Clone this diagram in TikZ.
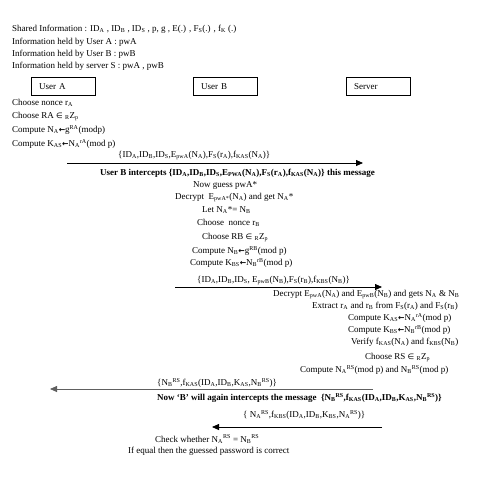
\documentclass[tikz,border=0pt]{standalone}
\usepackage{fontspec}
\setmainfont{Liberation Serif}
\newfontfamily\symfont[Scale=0.85]{DejaVu Sans}
\usetikzlibrary{arrows.meta}
\newcommand{\lo}[1]{\textsubscript{#1}}
\newcommand{\hi}[1]{\textsuperscript{#1}}
\newcommand{\getsarrow}{{\symfont\bfseries ←}}
\newcommand{\isin}{{\symfont ∈}}

\begin{document}
\begin{tikzpicture}[x=1pt, y=-1pt, font=\fontsize{9}{11}\selectfont,
    txt/.style={anchor=west, inner sep=0pt},
    party/.style={draw, anchor=north west, text width=48pt, inner xsep=8pt,
                  minimum height=18pt, inner ysep=0pt, align=left},
    msg/.style={-{Triangle[length=7pt, width=6pt]}, line width=0.8pt}]
  \useasboundingbox (0,0) rectangle (479,477);

  % shared information
  \node[txt] (shared) at (12,29) {Shared Information : ID\lo{A} , ID\lo{B} , ID\lo{S} , p, g , E(.) , F\lo{S}(.) , f\lo{K} (.)};
  \node[txt] (infoA) at (12,42) {Information held by User A : pwA};
  \node[txt] (infoB) at (12,54) {Information held by User B : pwB};
  \node[txt] (infoS) at (12,66) {Information held by server S : pwA , pwB};

  % parties
  \node[party] (userA)  at (31,77)  {User A};
  \node[party] (userB)  at (193,77) {User B};
  \node[party] (server) at (346,77) {Server};

  % user A
  \node[txt] (nonceA)   at (12,103) {Choose nonce r\lo{A}};
  \node[txt] (chooseRA) at (12,117) {Choose RA \isin{} \lo{R}Z\lo{p}};
  \node[txt] (compNA)   at (12,130) {Compute N\lo{A}\getsarrow g\hi{RA}(modp)};
  \node[txt] (compKAS)  at (12,144) {Compute K\lo{AS}\getsarrow N\lo{A}\hi{rA}(mod p)};

  % A -> server, intercepted by B
  \coordinate (m1s) at (67,163);
  \coordinate (m1e) at (363,163);
  \draw[msg] (m1s) -- (m1e);
  \node[txt] (msg1) at (118,155) {\{ID\lo{A},ID\lo{B},ID\lo{S},E\lo{pwA}(N\lo{A}),F\lo{S}(r\lo{A}),f\lo{KAS}(N\lo{A})\}};
  \node[txt, font=\fontsize{9}{11}\selectfont\bfseries] (icpt1) at (100,173)
    {User B intercepts \{ID\lo{A},ID\lo{B},ID\lo{S},E\lo{PWA}(N\lo{A}),F\lo{S}(r\lo{A}),f\lo{KAS}(N\lo{A})\} this message};

  % user B
  \node[txt] (guess)    at (193,185) {Now guess pwA*};
  \node[txt] (decB)     at (175,198) {Decrypt\ \ E\lo{pwA*}(N\lo{A}) and get N\lo{A}*};
  \node[txt] (letNA)    at (202,210) {Let N\lo{A}*= N\lo{B}};
  \node[txt] (nonceB)   at (197,223) {Choose\ \ nonce r\lo{B}};
  \node[txt] (chooseRB) at (202,238) {Choose RB \isin{} \lo{R}Z\lo{p}};
  \node[txt] (compNB)   at (192,251) {Compute N\lo{B}\getsarrow g\hi{RB}(mod p)};
  \node[txt] (compKBS)  at (190,263) {Compute K\lo{BS}\getsarrow N\lo{B}\hi{rB}(mod p)};

  % B -> server
  \coordinate (m2s) at (175,287);
  \coordinate (m2e) at (382,287);
  \draw[msg] (m2s) -- (m2e);
  \node[txt] (msg2) at (197,280) {\{ID\lo{A},ID\lo{B},ID\lo{S}, E\lo{pwB}(N\lo{B}),F\lo{S}(r\lo{B}),f\lo{KBS}(N\lo{B})\}};

  % server
  \node[txt] (decS)     at (273,295) {Decrypt E\lo{pwA}(N\lo{A}) and E\lo{pwB}(N\lo{B}) and gets N\lo{A} \& N\lo{B}};
  \node[txt] (extract)  at (312,306) {Extract r\lo{A} and r\lo{B} from F\lo{S}(r\lo{A}) and F\lo{S}(r\lo{B})};
  \node[txt] (sKAS)     at (348,318) {Compute K\lo{AS}\getsarrow N\lo{A}\hi{rA}(mod p)};
  \node[txt] (sKBS)     at (348,330) {Compute K\lo{BS}\getsarrow N\lo{B}\hi{rB}(mod p)};
  \node[txt] (verify)   at (351,342) {Verify f\lo{KAS}(N\lo{A}) and f\lo{KBS}(N\lo{B})};
  \node[txt] (chooseRS) at (365,358) {Choose RS \isin{} \lo{R}Z\lo{p}};
  \node[txt] (compRS)   at (300,370) {Compute N\lo{A}\hi{RS}(mod p) and N\lo{B}\hi{RS}(mod p)};

  % server -> A, intercepted again
  \coordinate (m3s) at (373,389);
  \coordinate (m3e) at (50,389);
  \draw[msg, gray!75!black] (m3s) -- (m3e);
  \node[txt] (msg3) at (157,383) {\{N\lo{B}\hi{RS},f\lo{KAS}(ID\lo{A},ID\lo{B},K\lo{AS},N\lo{B}\hi{RS})\}};
  \node[txt, font=\fontsize{9}{11}\selectfont\bfseries] (icpt2) at (157,398)
    {Now ‘B’ will again intercepts the message\ \ \{N\lo{B}\hi{RS},f\lo{KAS}(ID\lo{A},ID\lo{B},K\lo{AS},N\lo{B}\hi{RS})\}};

  % server -> B
  \coordinate (m4s) at (382,427);
  \coordinate (m4e) at (212,427);
  \draw[msg] (m4s) -- (m4e);
  \node[txt] (msg4) at (243,415) {\{ N\lo{A}\hi{RS},f\lo{KBS}(ID\lo{A},ID\lo{B},K\lo{BS},N\lo{A}\hi{RS})\}};

  % check
  \node[txt] (check) at (155,439) {Check whether N\lo{A}\hi{RS} = N\lo{B}\hi{RS}};
  \node[txt] (equal) at (128,451) {If equal then the guessed password is correct};
\end{tikzpicture}
\end{document}
